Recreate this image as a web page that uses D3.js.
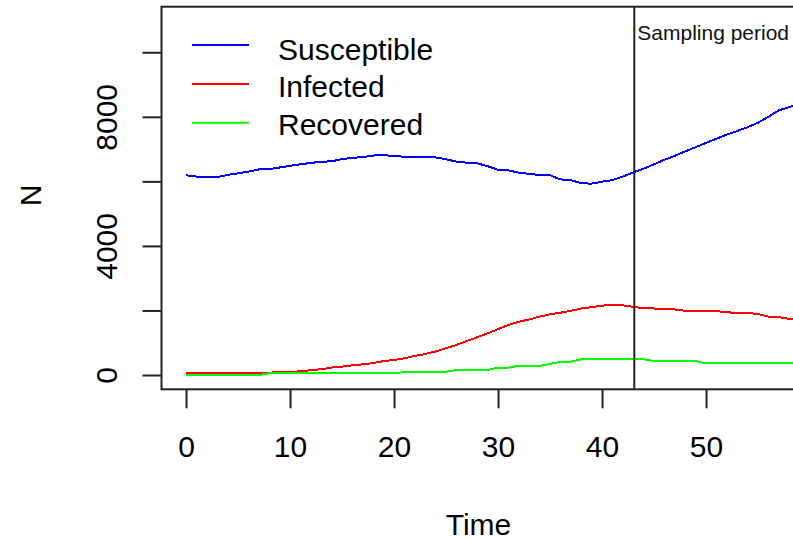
<!DOCTYPE html>
<html>
<head>
<meta charset="utf-8">
<script src="https://cdn.jsdelivr.net/npm/d3@7"></script>
<style>
  html, body { margin: 0; padding: 0; background: #fff; overflow: hidden; }
  svg { display: block; font-family: "Liberation Sans", Arial, sans-serif; }
</style>
</head>
<body>
<svg id="chart" width="793" height="541"></svg>
<script>
// Simulated SIR trajectories, one value per time unit
const time = d3.range(0, 60);
const susceptible = [
  6190, 6150, 6125, 6130, 6200, 6250, 6300, 6370, 6380, 6430,
  6480, 6530, 6570, 6610, 6620, 6690, 6730, 6750, 6800, 6815,
  6780, 6765, 6765, 6770, 6740, 6685, 6610, 6580, 6560, 6470,
  6360, 6340, 6270, 6230, 6198, 6190, 6060, 6040, 5940, 5930,
  5990, 6040, 6150, 6280, 6390, 6530, 6670, 6790, 6930, 7060,
  7190, 7320, 7450, 7560, 7680, 7820, 8000, 8200, 8300, 8420
];
const infected = [
  50, 50, 50, 50, 50, 50, 50, 50, 70, 100,
  105, 110, 150, 180, 230, 260, 300, 330, 370, 430,
  465, 520, 590, 650, 730, 830, 930, 1054, 1170, 1290,
  1420, 1550, 1650, 1720, 1810, 1880, 1930, 1990, 2060, 2100,
  2150, 2170, 2160, 2110, 2070, 2060, 2050, 2030, 1990, 1985,
  1980, 1980, 1940, 1930, 1920, 1890, 1810, 1790, 1740, 1710
];
const recovered = [
  0, 0, 0, 0, 0, 0, 0, 0, 50, 50,
  50, 50, 50, 50, 50, 50, 50, 50, 50, 50,
  50, 90, 103, 103, 103, 103, 155, 155, 155, 155,
  227, 227, 289, 289, 289, 341, 413, 413, 486, 486,
  486, 486, 486, 486, 486, 434, 434, 434, 434, 434,
  362, 362, 362, 362, 362, 362, 362, 362, 362, 362
];

const seriesNames = ["Susceptible", "Infected", "Recovered"];
const seriesColors = ["#0000ff", "#ff0000", "#00ff00"];

const xTicks = [0, 10, 20, 30, 40, 50];
const yTicks = [0, 2000, 4000, 6000, 8000, 10000];
const yTickLabels = ["0", "", "4000", "", "8000", ""];
const xLimits = [-2.36, 58.6];
const yLimits = [-443, 11412];
const samplingStart = 43.1;

const plot = { left: 161.5, top: 6.7, right: 795.5, bottom: 389.3 };
const ink = "#222";

const svg = d3.select("#chart");

const x = d3.scaleLinear().domain(xLimits).range([plot.left, plot.right]);
const y = d3.scaleLinear().domain(yLimits).range([plot.bottom, plot.top]);

svg.append("defs").append("clipPath").attr("id", "plot-clip")
  .append("rect")
  .attr("x", plot.left).attr("y", plot.top)
  .attr("width", plot.right - plot.left).attr("height", plot.bottom - plot.top);

// Trajectories
const series = [susceptible, infected, recovered];
const line = d3.line().x((d, i) => x(time[i])).y(d => y(d));
const lines = svg.append("g").attr("clip-path", "url(#plot-clip)");
series.forEach((vals, k) => {
  lines.append("path")
    .attr("d", line(vals))
    .attr("fill", "none")
    .attr("stroke", seriesColors[k])
    .attr("stroke-width", 2)
    .attr("shape-rendering", "crispEdges");
});

// Start of the sampling period
svg.append("line")
  .attr("x1", x(samplingStart)).attr("x2", x(samplingStart))
  .attr("y1", plot.top).attr("y2", plot.bottom)
  .attr("stroke", ink).attr("stroke-width", 2);
svg.append("text")
  .attr("x", x(samplingStart) + 3).attr("y", 40)
  .attr("font-size", 21).attr("fill", "#111")
  .text("Sampling period");

// Axes
const tickLen = 19;
const xAxis = svg.append("g")
  .attr("transform", `translate(0,${plot.bottom})`)
  .call(d3.axisBottom(x).tickValues(xTicks).tickSize(tickLen).tickFormat(d3.format("d")));
xAxis.select(".domain").remove();
xAxis.selectAll(".tick line").attr("stroke", ink).attr("stroke-width", 2);
xAxis.selectAll(".tick text")
  .attr("y", 67.7).attr("dy", null)
  .attr("font-size", 30).attr("fill", "#000")
  .attr("font-family", "Liberation Sans, Arial, sans-serif");

const yAxis = svg.append("g")
  .attr("transform", `translate(${plot.left},0)`)
  .call(d3.axisLeft(y).tickValues(yTicks).tickSize(tickLen)
    .tickFormat((d, i) => yTickLabels[i]));
yAxis.select(".domain").remove();
yAxis.selectAll(".tick line").attr("stroke", ink).attr("stroke-width", 2);
yAxis.selectAll(".tick text")
  .attr("x", 0).attr("dy", null)
  .attr("transform", "translate(-44.5,0) rotate(-90)")
  .attr("text-anchor", "middle")
  .attr("font-size", 30).attr("fill", "#000")
  .attr("font-family", "Liberation Sans, Arial, sans-serif");

// Plot frame
svg.append("rect")
  .attr("x", plot.left).attr("y", plot.top)
  .attr("width", plot.right - plot.left).attr("height", plot.bottom - plot.top)
  .attr("fill", "none").attr("stroke", ink).attr("stroke-width", 2);

// Axis titles
svg.append("text")
  .attr("x", (plot.left + plot.right) / 2).attr("y", 535)
  .attr("text-anchor", "middle").attr("font-size", 30).attr("fill", "#000")
  .text("Time");
svg.append("text")
  .attr("transform", "translate(40.5,195.5) rotate(-90)")
  .attr("text-anchor", "middle").attr("font-size", 30).attr("fill", "#000")
  .text("N");

// Legend
const legend = svg.append("g");
seriesNames.forEach((name, i) => {
  const ly = 45 + 38.9 * i;
  legend.append("line")
    .attr("x1", 192).attr("x2", 249).attr("y1", ly).attr("y2", ly)
    .attr("stroke", seriesColors[i]).attr("stroke-width", 2);
  legend.append("text")
    .attr("x", 278).attr("y", 59.6 + 37.8 * i)
    .attr("font-size", 30).attr("fill", "#000")
    .text(name);
});
</script>
</body>
</html>
